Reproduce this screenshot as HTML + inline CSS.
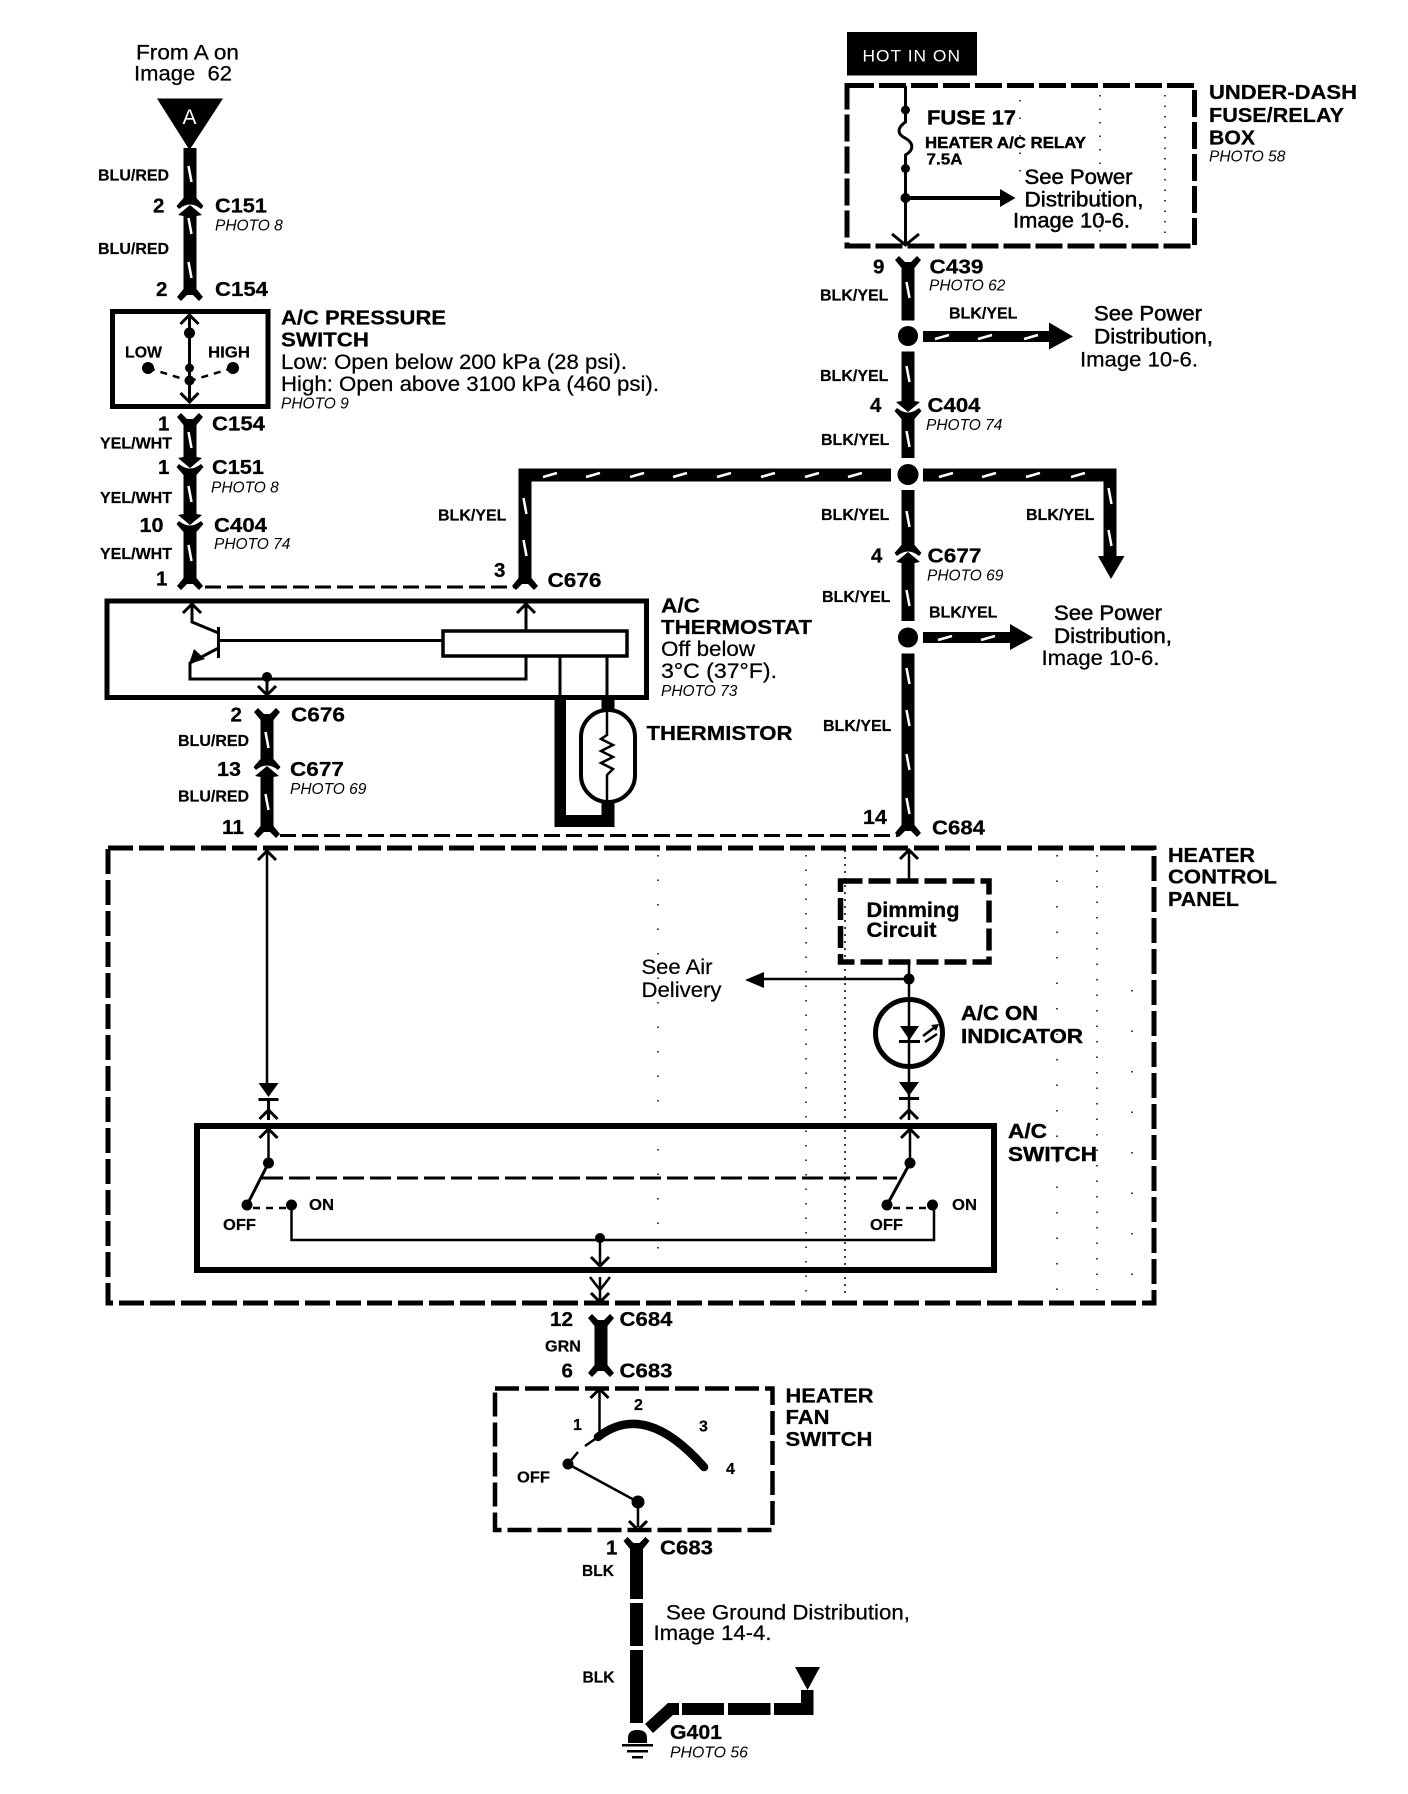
<!DOCTYPE html>
<html><head><meta charset="utf-8"><title>A/C wiring diagram</title>
<style>
html,body{margin:0;padding:0;background:#fff}
svg{display:block}
text{font-family:"Liberation Sans",sans-serif;fill:#000}
.b{font-size:20.5px;font-weight:700;stroke:#000;stroke-width:.25}
.s{font-size:16px;font-weight:700;stroke:#000;stroke-width:.2}
.i{font-size:15.5px;font-style:italic}
.r{font-size:21px;stroke:#000;stroke-width:.25}
.h{font-size:21px;stroke:#000;stroke-width:.5}
.w{stroke:#000;stroke-width:13;fill:none}
.l{stroke:#000;stroke-width:3;fill:none}
.d{stroke:#000;stroke-width:5;fill:none}
.t{stroke:#fff;stroke-width:2.5}
.n{stroke:#000;stroke-width:2.5;fill:none}
</style></head><body>
<svg xmlns="http://www.w3.org/2000/svg" width="1408" height="1794" viewBox="0 0 1408 1794">
<defs>
<path id="ft" d="M-13 3L-9 -1L-3 5L3 5L9 -1L13 3L6.5 11L6.5 16L-6.5 16L-6.5 11Z"/>
<path id="fb" d="M-13 -3L-9 1L-3 -5L3 -5L9 1L13 -3L6.5 -11L6.5 -16L-6.5 -16L-6.5 -11Z"/>
<g id="mu"><path d="M-6.5 -16L6.5 -16L6.5 -9L13.5 -1L11 2Q0 -7 -11 2L-13.5 -1L-6.5 -9Z"/><path d="M-6.5 16L6.5 16L6.5 9L12 8L0 -2L-12 8L-6.5 9Z"/></g>
<g id="md"><path d="M-6.5 16L6.5 16L6.5 9L13.5 1L11 -2Q0 7 -11 -2L-13.5 1L-6.5 9Z"/><path d="M-6.5 -16L6.5 -16L6.5 -9L12 -8L0 2L-12 -8L-6.5 -9Z"/></g>
<path id="au" d="M-9 9L0 0L9 9" fill="none" stroke="#000" stroke-width="3"/>
<path id="ad" d="M-9 -9L0 0L9 -9" fill="none" stroke="#000" stroke-width="3"/>
<g id="diode"><path d="M-10 0L10 0L0 14Z"/><rect x="-10" y="15" width="20" height="3"/></g>
</defs>
<rect width="1408" height="1794" fill="#fff"/>

<!-- speckle -->
<g stroke="#000" fill="none" stroke-width="1.5">
<path d="M658 855V1295" stroke-dasharray="1.5 23"/>
<path d="M806 855V1295" stroke-dasharray="1.5 13"/>
<path d="M845 850V1295" stroke-dasharray="2 5"/>
<path d="M1057 855V1290" stroke-dasharray="1.5 24"/>
<path d="M1097 855V1290" stroke-dasharray="1.5 14"/>
<path d="M1132 990V1290" stroke-dasharray="1.5 39"/>
<path d="M1100 95V240" stroke-dasharray="1.5 12"/>
<path d="M1165 95V240" stroke-dasharray="1.5 9"/>
<path d="M1020 100V180" stroke-dasharray="1.5 16"/>
</g>

<!-- top-left feed -->
<text class="r" x="136" y="59.5" textLength="103" lengthAdjust="spacingAndGlyphs">From A on</text>
<text class="r" x="134" y="80.5" textLength="98" lengthAdjust="spacingAndGlyphs">Image&#160;&#160;62</text>
<path d="M157 98.5H223L189.5 150Z"/>
<text x="189.5" y="124" font-size="21" text-anchor="middle" style="fill:#fff">A</text>
<path class="w" d="M190 148V198"/>
<use href="#mu" x="190" y="207"/>
<path class="w" d="M190 222V290"/>
<use href="#fb" x="190" y="305" transform="translate(0,-5)"/>
<text class="s" x="98" y="180.5">BLU/RED</text>
<text class="s" x="98" y="254">BLU/RED</text>
<text class="b" x="153" y="212.5">2</text>
<text class="b" x="215" y="212.5" textLength="52" lengthAdjust="spacingAndGlyphs">C151</text>
<text class="i" x="215" y="230.5">PHOTO 8</text>
<text class="b" x="156" y="296">2</text>
<text class="b" x="215" y="296" textLength="53" lengthAdjust="spacingAndGlyphs">C154</text>

<!-- pressure switch -->
<rect x="112.5" y="311.5" width="155.5" height="95" fill="none" stroke="#000" stroke-width="5"/>
<path class="l" d="M189.5 316V401"/>
<use href="#au" x="189.5" y="315"/><use href="#ad" x="189.5" y="402"/>
<circle cx="189.5" cy="333" r="5.5"/><circle cx="189.5" cy="368" r="4.5"/><circle cx="189.5" cy="380.5" r="5"/>
<circle cx="148" cy="368" r="6"/><circle cx="233" cy="368" r="6"/>
<path d="M148 368L189.5 381M233 368L189.5 381" stroke="#000" stroke-width="2.5" stroke-dasharray="7 6" fill="none"/>
<text class="s" x="125" y="357.5" textLength="37" lengthAdjust="spacingAndGlyphs">LOW</text>
<text class="s" x="208" y="357.5" textLength="42" lengthAdjust="spacingAndGlyphs">HIGH</text>
<text class="b" x="281" y="324.5" textLength="165" lengthAdjust="spacingAndGlyphs">A/C PRESSURE</text>
<text class="b" x="281" y="346.5" textLength="88" lengthAdjust="spacingAndGlyphs">SWITCH</text>
<text class="r" x="281" y="369" textLength="346" lengthAdjust="spacingAndGlyphs">Low: Open below 200 kPa (28 psi).</text>
<text class="r" x="281" y="391" textLength="378" lengthAdjust="spacingAndGlyphs">High: Open above 3100 kPa (460 psi).</text>
<text class="i" x="281" y="408.5">PHOTO 9</text>

<!-- below switch -->
<use href="#ft" x="190" y="414"/>
<path class="w" d="M190 428V458"/>
<use href="#md" x="190" y="466"/>
<path class="w" d="M190 480V510"/>
<use href="#md" x="190" y="523"/>
<path class="w" d="M190 537V578"/>
<use href="#fb" x="190" y="589"/>
<text class="b" x="158" y="430.5">1</text>
<text class="b" x="212" y="430.5" textLength="53" lengthAdjust="spacingAndGlyphs">C154</text>
<text class="s" x="100" y="448.5">YEL/WHT</text>
<text class="b" x="158" y="474">1</text>
<text class="b" x="212" y="474" textLength="52" lengthAdjust="spacingAndGlyphs">C151</text>
<text class="i" x="211" y="492.5">PHOTO 8</text>
<text class="s" x="100" y="503">YEL/WHT</text>
<text class="b" x="139.5" y="532" textLength="24" lengthAdjust="spacingAndGlyphs">10</text>
<text class="b" x="214" y="532" textLength="53" lengthAdjust="spacingAndGlyphs">C404</text>
<text class="i" x="214" y="549">PHOTO 74</text>
<text class="s" x="100" y="559">YEL/WHT</text>
<text class="b" x="156" y="585.5">1</text>
<path d="M205 587H515" stroke="#000" stroke-width="3" stroke-dasharray="16 6" fill="none"/>

<!-- thermostat feed wire -->
<path class="w" d="M525 578V475H891"/>
<use href="#fb" x="525" y="589"/>
<text class="s" x="438" y="520.5">BLK/YEL</text>
<text class="b" x="494" y="577">3</text>
<text class="b" x="547.5" y="587" textLength="54" lengthAdjust="spacingAndGlyphs">C676</text>

<!-- thermostat -->
<rect x="107" y="601" width="539.5" height="96.5" fill="none" stroke="#000" stroke-width="5"/>
<path class="l" d="M192 606V622L218.5 633M218.5 627V658M218.5 640.5H442M218.5 648L190 663V679H526V657M526 606V630M560 657V696M607 657V696" stroke-width="2.5"/>
<path d="M189 664L194 649L205 659Z"/>
<use href="#au" x="192" y="604"/><use href="#au" x="526" y="604"/>
<rect x="443" y="631" width="184" height="25" fill="none" stroke="#000" stroke-width="3.5"/>
<circle cx="267" cy="677" r="5"/>
<path class="l" d="M267 677V693"/><use href="#ad" x="267" y="695"/>
<text class="b" x="661" y="612.5" textLength="39" lengthAdjust="spacingAndGlyphs">A/C</text>
<text class="b" x="661" y="634" textLength="151" lengthAdjust="spacingAndGlyphs">THERMOSTAT</text>
<text class="r" x="661" y="656" textLength="94" lengthAdjust="spacingAndGlyphs">Off below</text>
<text class="r" x="661" y="678" textLength="116" lengthAdjust="spacingAndGlyphs">3°C (37°F).</text>
<text class="i" x="661" y="696">PHOTO 73</text>

<!-- thermistor -->
<path d="M554.5 700H566V815H601.5V803H614.5V827H554.5Z"/>
<rect x="601.5" y="700" width="13" height="11"/>
<rect x="581" y="710" width="54" height="92" rx="27" ry="27" fill="#fff" stroke="#000" stroke-width="4"/>
<path d="M607 710V735L601 739L613 745L601 751L613 757L601 763L613 769L607 775V802" fill="none" stroke="#000" stroke-width="2.5"/>
<text class="b" x="646.5" y="740" textLength="146" lengthAdjust="spacingAndGlyphs">THERMISTOR</text>

<!-- blu/red lower -->
<use href="#ft" x="267" y="709"/>
<path class="w" d="M267 723V755"/>
<use href="#mu" x="267" y="768"/>
<path class="w" d="M267 783V826"/>
<use href="#fb" x="267" y="837"/>
<text class="b" x="230.5" y="721.5">2</text>
<text class="b" x="291" y="721.5" textLength="54" lengthAdjust="spacingAndGlyphs">C676</text>
<text class="s" x="178" y="746">BLU/RED</text>
<text class="b" x="217" y="776" textLength="24" lengthAdjust="spacingAndGlyphs">13</text>
<text class="b" x="290" y="776" textLength="54" lengthAdjust="spacingAndGlyphs">C677</text>
<text class="i" x="290" y="794">PHOTO 69</text>
<text class="s" x="178" y="801.5">BLU/RED</text>
<text class="b" x="222" y="834" textLength="22" lengthAdjust="spacingAndGlyphs">11</text>
<path d="M280 835.5H898" stroke="#000" stroke-width="3" stroke-dasharray="16 6" fill="none"/>

<!-- fuse box -->
<rect x="847" y="32" width="130" height="43.5" transform="translate(0,0)"/>
<text x="862.5" y="61.5" font-size="17" letter-spacing="1" textLength="98.5" lengthAdjust="spacingAndGlyphs" style="fill:#fff">HOT IN ON</text>
<rect x="847" y="85.5" width="347.5" height="160.5" fill="none" stroke="#000" stroke-width="5" stroke-dasharray="27 5"/>
<path class="l" d="M905.5 86V110V122C897 128 897 134 905 138C914 143 914 150 905.5 155V168.5V244"/>
<path class="l" d="M892 234L905.5 245L919 234"/>
<circle cx="905.5" cy="110" r="4.5"/><circle cx="905.5" cy="168.5" r="4.5"/><circle cx="905.5" cy="198" r="5"/>
<path d="M905.5 196H1000V189L1015.5 198L1000 207V200H905.5Z"/>
<text class="b" x="927" y="124.5" textLength="89" lengthAdjust="spacingAndGlyphs" style="stroke:#000;stroke-width:.4">FUSE 17</text>
<text class="s" x="925" y="148" textLength="161" lengthAdjust="spacingAndGlyphs" style="stroke:#000;stroke-width:.4">HEATER A/C RELAY</text>
<text class="s" x="926.5" y="164.5" textLength="36" lengthAdjust="spacingAndGlyphs" style="stroke:#000;stroke-width:.3">7.5A</text>
<text class="h" x="1024.5" y="184" textLength="108" lengthAdjust="spacingAndGlyphs">See Power</text>
<text class="h" x="1024.5" y="206.5" textLength="119" lengthAdjust="spacingAndGlyphs">Distribution,</text>
<text class="h" x="1013" y="227.5" textLength="117" lengthAdjust="spacingAndGlyphs">Image 10-6.</text>
<text class="b" x="1209" y="99" textLength="148" lengthAdjust="spacingAndGlyphs">UNDER-DASH</text>
<text class="b" x="1209" y="122" textLength="135" lengthAdjust="spacingAndGlyphs">FUSE/RELAY</text>
<text class="b" x="1209" y="144.5" textLength="46" lengthAdjust="spacingAndGlyphs">BOX</text>
<text class="i" x="1209" y="161.5">PHOTO 58</text>

<!-- main right wire -->
<use href="#ft" x="908" y="257"/>
<path class="w" d="M908 270V320.5"/>
<circle cx="908" cy="336" r="10"/>
<path class="w" d="M908 351.5V396"/>
<use href="#md" x="908" y="410"/>
<path class="w" d="M908 424V458"/>
<circle cx="908" cy="474.5" r="10.5"/>
<path class="w" d="M908 490V540"/>
<use href="#mu" x="908" y="554"/>
<path class="w" d="M908 568V621"/>
<circle cx="908" cy="637.5" r="10"/>
<path class="w" d="M908 653.5V825"/>
<use href="#fb" x="908" y="836"/>

<text class="b" x="873" y="273.5">9</text>
<text class="b" x="929.5" y="273.5" textLength="54" lengthAdjust="spacingAndGlyphs">C439</text>
<text class="i" x="929" y="290.5">PHOTO 62</text>
<text class="s" x="820" y="300.5">BLK/YEL</text>
<text class="s" x="949" y="318.5">BLK/YEL</text>
<path d="M923 331H1049V322.5L1073 336.5L1049 349.5V342H923Z"/>
<text class="h" x="1094" y="320.5" textLength="108" lengthAdjust="spacingAndGlyphs">See Power</text>
<text class="h" x="1094" y="343.5" textLength="119" lengthAdjust="spacingAndGlyphs">Distribution,</text>
<text class="r" x="1080" y="366.5" textLength="118" lengthAdjust="spacingAndGlyphs">Image 10-6.</text>
<text class="s" x="820" y="381">BLK/YEL</text>
<text class="b" x="870" y="412">4</text>
<text class="b" x="927.5" y="412" textLength="53" lengthAdjust="spacingAndGlyphs">C404</text>
<text class="i" x="926" y="430">PHOTO 74</text>
<text class="s" x="821" y="445">BLK/YEL</text>

<path class="w" d="M923 475H1110V557"/>
<path d="M1098 556H1124.5L1111 579Z"/>
<text class="s" x="821" y="520">BLK/YEL</text>
<text class="s" x="1026" y="520">BLK/YEL</text>
<text class="b" x="871" y="562.5">4</text>
<text class="b" x="927.5" y="562.5" textLength="54" lengthAdjust="spacingAndGlyphs">C677</text>
<text class="i" x="927" y="580.5">PHOTO 69</text>
<text class="s" x="822" y="602">BLK/YEL</text>
<text class="s" x="929" y="617.5">BLK/YEL</text>
<path d="M923 632H1010V624L1033 637.5L1010 650V643H923Z"/>
<text class="h" x="1054" y="620" textLength="108" lengthAdjust="spacingAndGlyphs">See Power</text>
<text class="h" x="1054" y="643" textLength="118" lengthAdjust="spacingAndGlyphs">Distribution,</text>
<text class="r" x="1041.5" y="665" textLength="118" lengthAdjust="spacingAndGlyphs">Image 10-6.</text>
<text class="s" x="823" y="731">BLK/YEL</text>
<text class="b" x="863" y="824" textLength="24" lengthAdjust="spacingAndGlyphs">14</text>
<text class="b" x="932" y="834.5" textLength="53" lengthAdjust="spacingAndGlyphs">C684</text>

<!-- white ticks -->
<g class="t">
<path d="M188.5 166L191.5 182M188.5 218L191.5 234M188.5 262L191.5 278M188.5 432L191.5 448M188.5 486L191.5 502M188.5 545L191.5 561"/>
<path d="M523.5 498L526.5 514M523.5 540L526.5 556"/>
<path d="M1108.5 488L1111.5 504M1108.5 530L1111.5 546"/>
<path d="M906.5 282L909.5 298M906.5 366L909.5 382M906.5 431L909.5 447M906.5 511L909.5 527M906.5 590L909.5 606M906.5 668L909.5 684M906.5 710L909.5 726M906.5 754L909.5 770M906.5 798L909.5 814"/>
<path d="M265.5 732L268.5 748M265.5 794L268.5 810"/>
<path d="M543 477L557 473M586 477L600 473M630 477L644 473M673 477L687 473M717 477L731 473M761 477L775 473M805 477L819 473M848 477L862 473M939 477L953 473M982 477L996 473M1026 477L1040 473M1071 477L1085 473"/>
<path d="M935 339L949 335M978 339L992 335M1024 339L1038 335M938 640L952 636M981 640L995 636"/>
</g>

<!-- heater control panel -->
<rect x="108" y="848" width="1046" height="455" fill="none" stroke="#000" stroke-width="5" stroke-dasharray="25 6"/>
<text class="b" x="1168" y="862" textLength="87" lengthAdjust="spacingAndGlyphs">HEATER</text>
<text class="b" x="1168" y="883.5" textLength="109" lengthAdjust="spacingAndGlyphs">CONTROL</text>
<text class="b" x="1168" y="906" textLength="71" lengthAdjust="spacingAndGlyphs">PANEL</text>
<path class="n" d="M267 852V1083"/><use href="#au" x="267" y="851"/>
<use href="#diode" x="268.5" y="1083"/>
<path class="l" d="M268.5 1100V1120" stroke-width="2.5"/><use href="#au" x="268.5" y="1110"/>

<path class="n" d="M909 852V880"/><use href="#au" x="909" y="850"/>
<rect x="840.5" y="881" width="148.5" height="81" fill="none" stroke="#000" stroke-width="5.5" stroke-dasharray="22 6"/>
<text class="h" x="866.5" y="917" textLength="93" lengthAdjust="spacingAndGlyphs" style="font-weight:700;stroke-width:.3">Dimming</text>
<text class="h" x="866.5" y="937" textLength="70" lengthAdjust="spacingAndGlyphs" style="font-weight:700;stroke-width:.3">Circuit</text>
<path d="M909 964V1120" stroke="#000" stroke-width="2.5" fill="none"/>
<circle cx="909" cy="979" r="5.5"/>
<path d="M909 979H760" stroke="#000" stroke-width="2.5" fill="none"/>
<path d="M745 980L764 972V988Z"/>
<text class="h" x="641.5" y="974" textLength="71" lengthAdjust="spacingAndGlyphs" style="stroke-width:.2">See Air</text>
<text class="h" x="641.5" y="997" textLength="80" lengthAdjust="spacingAndGlyphs" style="stroke-width:.2">Delivery</text>
<circle cx="909" cy="1033" r="33.5" fill="none" stroke="#000" stroke-width="5"/>
<path d="M900 1026H919L909.5 1040Z"/><rect x="899" y="1040" width="21" height="3"/>
<path d="M923 1036L935 1027M925 1042L937 1034" stroke="#000" stroke-width="2.5"/>
<path d="M939 1024L931 1025L936 1031Z"/>
<text class="b" x="961" y="1020" textLength="77" lengthAdjust="spacingAndGlyphs" style="stroke:#000;stroke-width:.4">A/C ON</text>
<text class="b" x="961" y="1043" textLength="122" lengthAdjust="spacingAndGlyphs" style="stroke:#000;stroke-width:.4">INDICATOR</text>
<use href="#diode" x="909" y="1082"/>
<use href="#au" x="909" y="1110"/>

<!-- A/C switch -->
<rect x="197" y="1126" width="797" height="144" fill="none" stroke="#000" stroke-width="6"/>
<text class="b" x="1008" y="1138" textLength="39" lengthAdjust="spacingAndGlyphs" style="stroke:#000;stroke-width:.4">A/C</text>
<text class="b" x="1008" y="1161" textLength="89" lengthAdjust="spacingAndGlyphs" style="stroke:#000;stroke-width:.4">SWITCH</text>
<path d="M268.5 1130V1163M910 1130V1163" stroke="#000" stroke-width="2.5" fill="none"/>
<use href="#au" x="268.5" y="1129"/><use href="#au" x="910" y="1129"/>
<circle cx="268.5" cy="1163" r="5.5"/><circle cx="910" cy="1163" r="5.5"/>
<path d="M268.5 1163L247 1205M910 1163L887 1205" stroke="#000" stroke-width="3" fill="none"/>
<path d="M262 1178H897" stroke="#000" stroke-width="3" stroke-dasharray="21 6" fill="none"/>
<circle cx="247" cy="1205" r="5.5"/><circle cx="291.5" cy="1205" r="5.5"/><circle cx="887" cy="1205" r="5.5"/><circle cx="932.5" cy="1205" r="5.5"/>
<path d="M253 1208H286M893 1208H927" stroke="#000" stroke-width="2.5" stroke-dasharray="7 6" fill="none"/>
<path d="M291.5 1205V1240H934V1205" stroke="#000" stroke-width="2.5" fill="none"/>
<circle cx="600" cy="1238" r="5"/>
<path d="M600 1238V1268M600 1277V1301" stroke="#000" stroke-width="2.5" fill="none"/>
<use href="#ad" x="600" y="1266"/><use href="#ad" x="600" y="1302"/>
<path d="M590 1277L600 1290L610 1277" stroke="#000" stroke-width="2.5" fill="none"/>
<text class="s" x="309" y="1210" textLength="25" lengthAdjust="spacingAndGlyphs">ON</text>
<text class="s" x="223" y="1230" textLength="33" lengthAdjust="spacingAndGlyphs">OFF</text>
<text class="s" x="952" y="1210" textLength="25" lengthAdjust="spacingAndGlyphs">ON</text>
<text class="s" x="870" y="1230" textLength="33" lengthAdjust="spacingAndGlyphs">OFF</text>

<!-- grn -->
<use href="#ft" x="601" y="1315"/>
<path class="w" d="M601 1328V1366"/>
<use href="#fb" x="601" y="1376"/>
<text class="b" x="550" y="1326" textLength="23" lengthAdjust="spacingAndGlyphs">12</text>
<text class="b" x="619.5" y="1326" textLength="53" lengthAdjust="spacingAndGlyphs">C684</text>
<text class="s" x="545" y="1351.5" textLength="36" lengthAdjust="spacingAndGlyphs">GRN</text>
<text class="b" x="561.5" y="1377.5">6</text>
<text class="b" x="619.5" y="1377.5" textLength="53" lengthAdjust="spacingAndGlyphs">C683</text>

<!-- fan switch -->
<rect x="495" y="1388.5" width="277.5" height="141.5" fill="none" stroke="#000" stroke-width="4.5" stroke-dasharray="24 6"/>
<text class="b" x="785.5" y="1402.5" textLength="88" lengthAdjust="spacingAndGlyphs">HEATER</text>
<text class="b" x="785.5" y="1424" textLength="44" lengthAdjust="spacingAndGlyphs">FAN</text>
<text class="b" x="785.5" y="1446" textLength="87" lengthAdjust="spacingAndGlyphs">SWITCH</text>
<path d="M599.5 1390V1437" stroke="#000" stroke-width="2.5" fill="none"/><use href="#au" x="599.5" y="1389"/>
<path d="M598 1437Q645 1400 704 1467" stroke="#000" stroke-width="8.5" stroke-linecap="round" fill="none"/>
<path d="M598 1437L585 1446M568 1464L578 1452M568 1464L638 1502" stroke="#000" stroke-width="2.5" fill="none"/>
<circle cx="568" cy="1464" r="5.5"/><circle cx="638" cy="1502" r="6.5"/>
<path d="M638 1502V1527" stroke="#000" stroke-width="2.5" fill="none"/><use href="#ad" x="638" y="1530"/>
<text class="s" x="573" y="1430">1</text>
<text class="s" x="634" y="1410">2</text>
<text class="s" x="699" y="1431.5">3</text>
<text class="s" x="726" y="1474">4</text>
<text class="s" x="517" y="1482.5" textLength="33" lengthAdjust="spacingAndGlyphs">OFF</text>

<!-- ground -->
<use href="#ft" x="636.5" y="1538"/>
<path class="w" d="M636.5 1552V1599M636.5 1603V1646M636.5 1650V1723"/>
<text class="b" x="606" y="1554.5">1</text>
<text class="b" x="660" y="1554.5" textLength="53" lengthAdjust="spacingAndGlyphs">C683</text>
<text class="s" x="582" y="1576" textLength="32" lengthAdjust="spacingAndGlyphs">BLK</text>
<text class="s" x="582.5" y="1682.5" textLength="32" lengthAdjust="spacingAndGlyphs">BLK</text>
<text class="r" x="666" y="1619.5" textLength="244" lengthAdjust="spacingAndGlyphs">See Ground Distribution,</text>
<text class="r" x="653.5" y="1640" textLength="118" lengthAdjust="spacingAndGlyphs">Image 14-4.</text>
<path d="M645 1724L668 1703H679V1715H673L653 1733Z"/>
<rect x="682" y="1703" width="42" height="12"/><rect x="728" y="1703" width="42.5" height="12"/>
<path d="M774 1703H801V1690H813.5V1715H774Z"/>
<path d="M795 1667H820L807.5 1690Z"/>
<path d="M628 1743V1738Q628 1730 637.5 1730Q647 1730 647 1738V1743Z"/>
<rect x="622" y="1744" width="31" height="2.5"/><rect x="627" y="1750" width="21" height="2.5"/><rect x="632" y="1756" width="11" height="2.5"/>
<text class="b" x="670" y="1739" textLength="52" lengthAdjust="spacingAndGlyphs">G401</text>
<text class="i" x="670" y="1757.5" textLength="78" lengthAdjust="spacingAndGlyphs">PHOTO 56</text>
</svg>
</body></html>
